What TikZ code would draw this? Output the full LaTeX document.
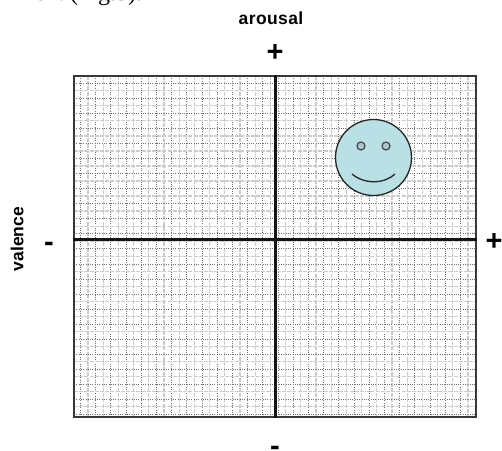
\documentclass[tikz,border=0pt]{standalone}
\usepackage{fontspec}
\setmainfont{Liberation Sans}
\newfontfamily\serifcap{Liberation Serif}
\definecolor{face}{HTML}{B9E0E4}
\tikzset{
  finegrid/.style={black!20,line width=1.3pt,dash pattern=on 4pt off 1.2pt},
  dotgrid/.style={black!55,line width=0.8pt,dash pattern=on 1pt off 1.3pt},
  axisline/.style={black!92,line width=3pt},
  framebox/.style={draw=black!78,line width=2pt},
  facestyle/.style={draw=black!85,line width=1.3pt},
  eyestyle/.style={circle,draw=black!70,line width=1.3pt,fill=face!75!gray,minimum size=8pt,inner sep=0pt},
  lab/.style={font=\bfseries\fontsize{17.5}{18}\selectfont,inner sep=0pt},
  sign/.style={font=\bfseries\fontsize{29}{30}\selectfont,inner sep=0pt}
}
\begin{document}
\begin{tikzpicture}[x=1pt,y=-1pt]
\useasboundingbox (0,0) rectangle (502,450);
\fill[white] (0,0) rectangle (502,450);
\begin{scope}
\clip (74,76) rectangle (476,417);
\foreach \i in {0,...,26} {
  \draw[finegrid] ({88+15.2*\i},76) -- ({88+15.2*\i},417);
  \draw[dotgrid] ({80.3+15.2*\i},76) -- ({80.3+15.2*\i},417);
}
\foreach \i in {0,...,22} {
  \draw[finegrid] (74,{90.7+15.05*\i}) -- (476,{90.7+15.05*\i});
  \draw[dotgrid] (74,{83.3+15.05*\i}) -- (476,{83.3+15.05*\i});
}
\end{scope}
\node[framebox,minimum width=402pt,minimum height=341pt,inner sep=0pt] (frame) at (275,246.5) {};
\coordinate (vt) at (frame.north);
\coordinate (vb) at (frame.south);
\coordinate (hl) at (frame.west |- 0,239.5);
\coordinate (hr) at (frame.east |- 0,239.5);
\draw[axisline] (vt) -- (vb);
\draw[axisline] (hl) -- (hr);
\node[circle,facestyle,fill=face,minimum size=76pt,inner sep=0pt] (smiley) at (373.5,157.5) {};
\node[eyestyle] (eyel) at (361,146) {};
\node[eyestyle] (eyer) at (386,146) {};
\draw[black!85,line width=1.3pt] (352,174) .. controls (364,184.3) and (384,184.3) .. (395,174);
\node[lab] (arousal) at (271,18) {a\kern0.4pt r\kern0.4pt o\kern0.4pt u\kern0.4pt s\kern0.4pt a\kern0.4pt l};
\node[sign] (plustop) at (275,53) {+};
\node[sign] (plusright) at (494,242) {+};
\node[sign] (minusleft) at (49,247) {-};
\node[sign] (minusbottom) at (275,450.5) {-};
\node[lab,rotate=90] (valence) at (17,239) {valence};
\node[font=\serifcap\fontsize{24}{25}\selectfont,inner sep=0pt,anchor=base west] (cap) at (16,0.5) {ment (Fig.3).};
\end{tikzpicture}
\end{document}
